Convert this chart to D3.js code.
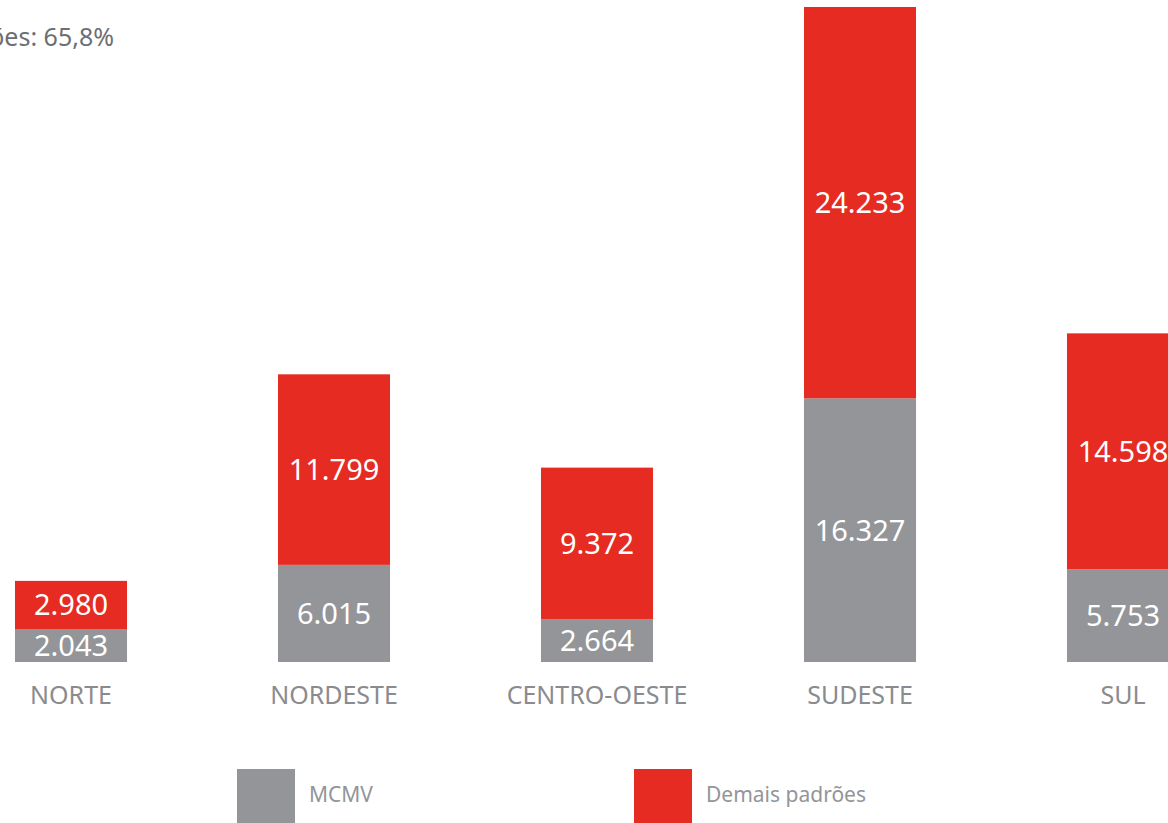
<!DOCTYPE html>
<html lang="pt">
<head>
<meta charset="UTF-8">
<title>Lançamentos por região</title>
<style>
  body { margin: 0; background: #fff; overflow: hidden; }
  text { font-family: "Noto Sans", "Open Sans", sans-serif; }
</style>
</head>
<body>
<script src="https://d3js.org/d3.v7.min.js"></script>
<script>
    // dados
    const regioes = ["NORTE", "NORDESTE", "CENTRO-OESTE", "SUDESTE", "SUL"];
    const mcmv = [2043, 6015, 2664, 16327, 5753];
    const demais = [2980, 11799, 9372, 24233, 14598];
    const series = ["MCMV", "Demais padrões"];
    const cores = ["#939598", "#e52b22"];
    const destaque = "Demais padrões: 65,8%";

    const width = 1168, height = 823;
    const base = 662;

    const svg = d3.select("body").append("svg")
        .attr("width", width)
        .attr("height", height);

    const x = d3.scaleBand()
        .domain(regioes)
        .range([-60.5, 1254.5])
        .paddingInner(0.574)
        .paddingOuter(0.287);

    const y = d3.scaleLinear()
        .domain([0, 40560])
        .range([base, 7]);

    const fmt = d3.formatLocale({decimal: ",", thousands: ".", grouping: [3], currency: ["R$", ""]}).format(",d");

    const dados = regioes.map((r, i) => ({regiao: r, vals: [mcmv[i], demais[i]]}));
    const pilha = d3.stack().keys([0, 1]).value((d, k) => d.vals[k])(dados);

    const grupos = svg.selectAll("g.serie")
        .data(pilha)
        .enter().append("g")
        .attr("class", "serie")
        .attr("fill", (d, i) => cores[i]);

    grupos.selectAll("rect")
        .data(d => d)
        .enter().append("rect")
        .attr("x", d => x(d.data.regiao))
        .attr("width", x.bandwidth())
        .attr("y", d => y(d[1]))
        .attr("height", d => y(d[0]) - y(d[1]));

    grupos.selectAll("text")
        .data(d => d)
        .enter().append("text")
        .attr("x", d => x(d.data.regiao) + x.bandwidth() / 2)
        .attr("y", d => (y(d[0]) + y(d[1])) / 2)
        .attr("dy", "0.36em")
        .attr("text-anchor", "middle")
        .attr("fill", "#fff")
        .style("font-size", "29px")
        .text(d => fmt(d[1] - d[0]));

    // eixo x (só rótulos)
    svg.append("g")
        .attr("transform", "translate(0," + base + ")")
        .call(d3.axisBottom(x).tickSize(0).tickPadding(24))
        .call(g => g.select(".domain").remove())
        .call(g => g.selectAll("text")
            .attr("fill", "#8a8b8e")
            .style("font-size", "25px")
            .style("font-family", "'Noto Sans', sans-serif")
            .attr("dy", "0.71em"));

    // legenda
    const legX = [237, 634];
    const leg = svg.selectAll("g.leg")
        .data(series)
        .enter().append("g")
        .attr("class", "leg")
        .attr("transform", (d, i) => "translate(" + legX[i] + ",769)");
    leg.append("rect")
        .attr("width", 58)
        .attr("height", 54)
        .attr("fill", (d, i) => cores[i]);
    leg.append("text")
        .attr("x", 72)
        .attr("y", 26)
        .attr("dy", "0.35em")
        .attr("fill", "#939598")
        .style("font-size", "21px")
        .text(d => d);

    // texto no topo (cortado na margem esquerda, como no original)
    svg.append("text")
        .attr("x", 114)
        .attr("y", 46)
        .attr("text-anchor", "end")
        .attr("fill", "#6d6e71")
        .style("font-size", "25px")
        .text(destaque);
</script>
</body>
</html>
